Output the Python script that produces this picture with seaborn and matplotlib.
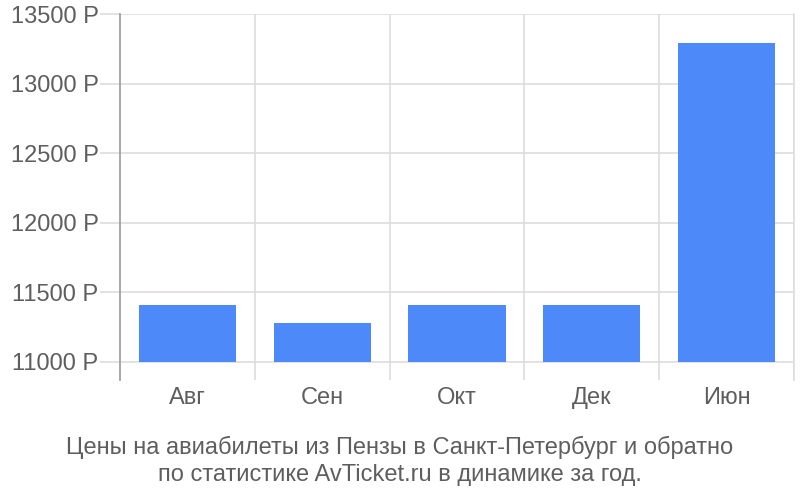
import matplotlib
matplotlib.use("Agg")
import matplotlib.pyplot as plt
import seaborn as sns
import pandas as pd
import numpy as np

months = ["Авг", "Сен", "Окт", "Дек", "Июн"]
prices = [11410, 11280, 11410, 11410, 13290]
yticks = [11000, 11500, 12000, 12500, 13000, 13500]
base = 11000
title_lines = ["Цены на авиабилеты из Пензы в Санкт-Петербург и обратно",
               "по статистике AvTicket.ru в динамике за год."]

sns.set_theme(style="white")
plt.rcParams['font.family'] = ['Liberation Sans', 'DejaVu Sans']

df = pd.DataFrame({"month": months, "price": prices})

fig = plt.figure(figsize=(8, 5), dpi=100)
ax = fig.add_axes([0.15, 0.24, 0.8425, 0.732])

sns.barplot(data=df, x="month", y="price", color="#4d89f9", saturation=1,
            width=0.72, ax=ax, zorder=3)
for patch, val in zip(ax.patches, prices):
    patch.set_y(base)
    patch.set_height(val - base)
    patch.set_edgecolor("none")

ax.set_xlim(-0.5, len(months) - 0.5)
ax.set_ylim(10870, 13500)
ax.set_yticks(yticks)
ax.set_yticklabels([f"{v} Р" for v in yticks])
ax.set_xlabel("")
ax.set_ylabel("")

grid_c = "#dddddd"
txt_c = "#5e5e5e"
ax.set_xticks(np.arange(len(months)) + 0.5, minor=True)
ax.grid(axis="y", color=grid_c, linewidth=1.2, zorder=0)
ax.grid(axis="x", which="minor", color=grid_c, linewidth=1.2, zorder=0)
ax.grid(axis="x", which="major", visible=False)

ax.tick_params(axis="y", length=14.4, width=1.2, color=grid_c, pad=1,
               labelsize=17, labelcolor=txt_c, left=True)
ax.tick_params(axis="x", which="both", length=0, pad=5, labelsize=17,
               labelcolor=txt_c)

for s in ["top", "bottom"]:
    ax.spines[s].set_visible(False)
ax.spines["left"].set_color("#999999")
ax.spines["left"].set_linewidth(1.2)
ax.spines["right"].set_color(grid_c)
ax.spines["right"].set_linewidth(1.2)

fig.text(0.5, 0.105, title_lines[0], ha="center", va="center",
         fontsize=17, color=txt_c)
fig.text(0.5, 0.049, title_lines[1], ha="center", va="center",
         fontsize=17, color=txt_c)

fig.savefig("out.png", dpi=100)
